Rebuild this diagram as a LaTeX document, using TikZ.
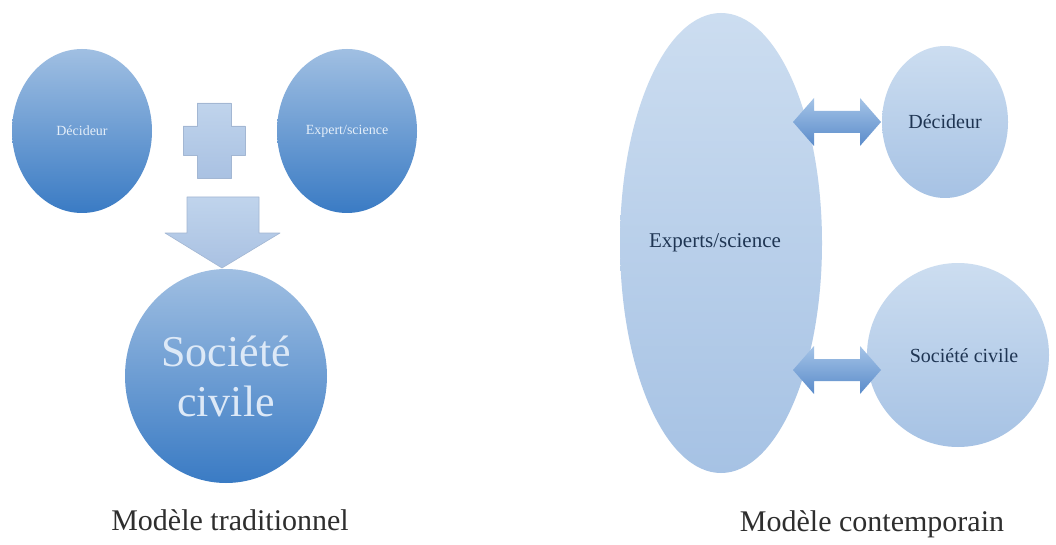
\documentclass[tikz,border=0pt]{standalone}
\usepackage{fontspec}
\setmainfont{Liberation Serif}
\usetikzlibrary{shapes.geometric}

\definecolor{bluetop}{HTML}{A0BFE2}
\definecolor{bluebot}{HTML}{3A7BC4}
\definecolor{palet}{HTML}{CCDDF0}
\definecolor{paleb}{HTML}{A6C2E4}
\definecolor{arrowlight}{HTML}{C0D4EC}
\definecolor{arrowmid}{HTML}{A9C1E2}
\definecolor{dbltop}{HTML}{A5C4E7}
\definecolor{dblmid}{HTML}{6C9BD2}
\definecolor{dblbot}{HTML}{5A8BCA}
\definecolor{navytext}{HTML}{1F3553}
\definecolor{captiontext}{HTML}{2E2E2E}
\definecolor{lighttext}{HTML}{E4EEF9}

\tikzset{
  darkball/.style={ellipse, inner sep=0pt, top color=bluetop, bottom color=bluebot,
      draw=none, text=lighttext, align=center},
  paleball/.style={ellipse, inner sep=0pt, top color=palet, bottom color=paleb,
      draw=none, text=navytext, align=center},
  blockshape/.style={top color=arrowlight, bottom color=arrowmid,
      draw=arrowmid!85!gray, line width=0.6pt, line join=round},
  dblarrow/.style={top color=dbltop, middle color=dblmid, bottom color=dblbot,
      draw=none},
  caption/.style={text=captiontext, font=\fontsize{30}{34}\selectfont}
}

\begin{document}
\begin{tikzpicture}[x=1pt, y=-1pt]
\useasboundingbox (0,0) rectangle (1056,545);
\fill[white] (0,0) rectangle (1056,545);

% ---- traditional model ----
\node[darkball, minimum width=140pt, minimum height=164pt,
      font=\fontsize{14}{16}\selectfont] (dec) at (82,131) {Décideur};
\node[darkball, minimum width=140pt, minimum height=164pt,
      font=\fontsize{14}{16}\selectfont] (exp) at (347,131) {Expert/science};

% plus sign
\coordinate (plus) at (214,140);
\path[blockshape] ([shift={(-17,-37)}]plus) -- ++(34,0) -- ++(0,23) -- ++(14,0)
  -- ++(0,29) -- ++(-14,0) -- ++(0,23) -- ++(-34,0) -- ++(0,-23) -- ++(-14,0)
  -- ++(0,-29) -- ++(14,0) -- cycle;

% downward block arrow
\coordinate (downtip) at (222,268);
\path[blockshape] ([shift={(-35,-71)}]downtip) -- ++(72,0) -- ++(0,36) -- ++(21,0)
  -- (downtip) -- ++(-57,-35) -- ++(22,0) -- cycle;

\node[darkball, minimum width=202pt, minimum height=214pt,
      font=\fontsize{44}{50}\selectfont, text=lighttext!90!bluetop] (soc) at (226,376)
      {Société\\civile};

\node[caption] (captrad) at (230,520) {Modèle traditionnel};

% ---- contemporary model ----
\node[paleball, minimum width=202pt, minimum height=460pt] (exps) at (721,243) {};
\node[text=navytext, font=\fontsize{21}{24}\selectfont] (expslab) at (715,243) {Experts/science};

\node[paleball, minimum width=126pt, minimum height=152pt,
      font=\fontsize{20}{24}\selectfont] (dec2) at (945,122) {Décideur};
\node[paleball, minimum width=182pt, minimum height=184pt] (soc2) at (958,355) {};
\node[text=navytext, font=\fontsize{20}{24}\selectfont] (soc2lab) at (964,356) {Société civile};

% double block arrows between the ellipse and the two circles
\coordinate (a1) at (837,122);
\coordinate (a2) at (837,370);
\foreach \c in {a1,a2}{
  \path[dblarrow] ([shift={(-44,0)}]\c) -- ++(21,-24) -- ++(0,13) -- ++(46,0)
    -- ++(0,-13) -- ++(21,24) -- ++(-21,24) -- ++(0,-13) -- ++(-46,0)
    -- ++(0,13) -- cycle;
}

\node[caption] (capcont) at (872,524) {Modèle contemporain};
\end{tikzpicture}
\end{document}
